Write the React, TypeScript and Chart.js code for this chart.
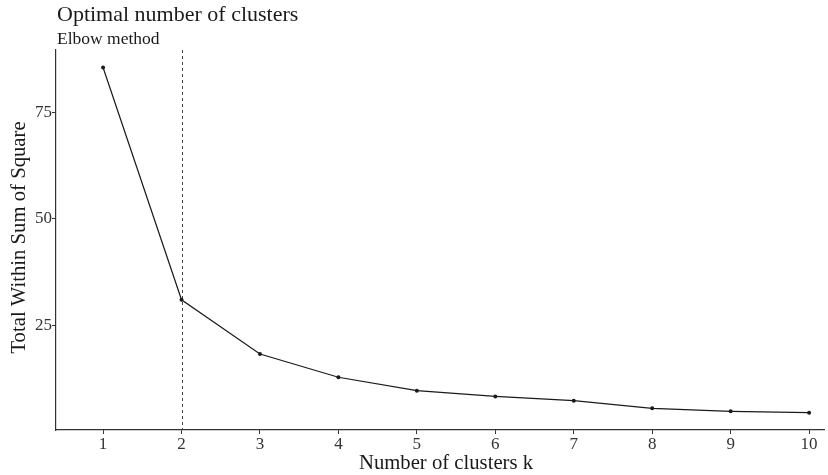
import React, { useEffect, useRef } from "react";
import { Chart, registerables } from "chart.js";

Chart.register(...registerables);

// Elbow curve: total within-cluster sum of squares for k = 1..10
const clusterCounts = [1, 2, 3, 4, 5, 6, 7, 8, 9, 10];
const withinSS = [85.6, 31.0, 18.25, 12.8, 9.65, 8.3, 7.3, 5.5, 4.8, 4.47];
const yTicks = [25, 50, 75];
const optimalK = 2;

const titleText = "Optimal number of clusters";
const subtitleText = "Elbow method";
const xTitle = "Number of clusters k";
const yTitle = "Total Within Sum of Square";

const FONT = "'Liberation Serif', 'DejaVu Serif', serif";
const INK = "#1a1a1a";
const AXIS = "#333333";

const decorations = {
  id: "decorations",
  beforeDatasetsDraw(chart: any) {
    const { ctx, chartArea, scales } = chart;
    const x = scales.x.getPixelForValue(optimalK);
    ctx.save();
    ctx.strokeStyle = "#444444";
    ctx.lineWidth = 1;
    ctx.setLineDash([3, 3]);
    ctx.beginPath();
    ctx.moveTo(Math.round(x) + 0.5, chartArea.top);
    ctx.lineTo(Math.round(x) + 0.5, chartArea.bottom);
    ctx.stroke();
    ctx.restore();
  },
  afterDraw(chart: any) {
    const { ctx, chartArea } = chart;
    ctx.save();
    ctx.fillStyle = INK;
    ctx.textAlign = "left";
    ctx.textBaseline = "alphabetic";
    ctx.font = `22px ${FONT}`;
    ctx.fillText(titleText, chartArea.left + 1, 21);
    ctx.font = `17.5px ${FONT}`;
    ctx.fillText(subtitleText, chartArea.left + 1, 44);

    ctx.font = `20.7px ${FONT}`;
    ctx.textAlign = "center";
    ctx.fillText(xTitle, 446, 469);

    ctx.translate(25, 237.5);
    ctx.rotate(-Math.PI / 2);
    ctx.fillText(yTitle, 0, 0);
    ctx.restore();
  },
};

export default function App() {
  const canvasRef = useRef<HTMLCanvasElement | null>(null);

  useEffect(() => {
    if (!canvasRef.current) return;
    const chart = new Chart(canvasRef.current, {
      type: "line",
      data: {
        datasets: [
          {
            data: clusterCounts.map((k, i) => ({ x: k, y: withinSS[i] })),
            borderColor: INK,
            backgroundColor: INK,
            borderWidth: 1.2,
            pointRadius: 2,
            pointBorderWidth: 0,
            pointBackgroundColor: INK,
            tension: 0,
          },
        ],
      },
      options: {
        animation: false,
        responsive: false,
        maintainAspectRatio: false,
        layout: { padding: { top: 50, left: 0, right: 0, bottom: 0 } },
        plugins: {
          legend: { display: false },
          tooltip: { enabled: false },
          title: { display: false },
        },
        scales: {
          x: {
            type: "linear",
            min: 0.4,
            max: 10.19,
            afterBuildTicks: (axis: any) => {
              axis.ticks = clusterCounts.map((v) => ({ value: v }));
            },
            afterFit: (axis: any) => {
              axis.height = 45;
            },
            grid: {
              display: true,
              drawOnChartArea: false,
              tickLength: 4,
              tickColor: AXIS,
            },
            border: { display: true, color: AXIS, width: 1.2 },
            ticks: {
              color: "#333333",
              font: { family: FONT, size: 17 },
              padding: 0,
              maxRotation: 0,
              autoSkip: false,
            },
          },
          y: {
            type: "linear",
            min: 0.41,
            max: 89.7,
            afterBuildTicks: (axis: any) => {
              axis.ticks = yTicks.map((v) => ({ value: v }));
            },
            afterFit: (axis: any) => {
              axis.width = 56;
            },
            grid: {
              display: true,
              drawOnChartArea: false,
              tickLength: 4,
              tickColor: AXIS,
            },
            border: { display: true, color: AXIS, width: 1.2 },
            ticks: {
              color: "#333333",
              font: { family: FONT, size: 17 },
              padding: 0,
            },
          },
        },
      },
      plugins: [decorations],
    });
    return () => chart.destroy();
  }, []);

  return (
    <div style={{ position: "fixed", left: 0, top: 0, width: 828, height: 475, background: "#ffffff" }}>
      <canvas ref={canvasRef} width={828} height={475} style={{ display: "block" }} />
    </div>
  );
}
